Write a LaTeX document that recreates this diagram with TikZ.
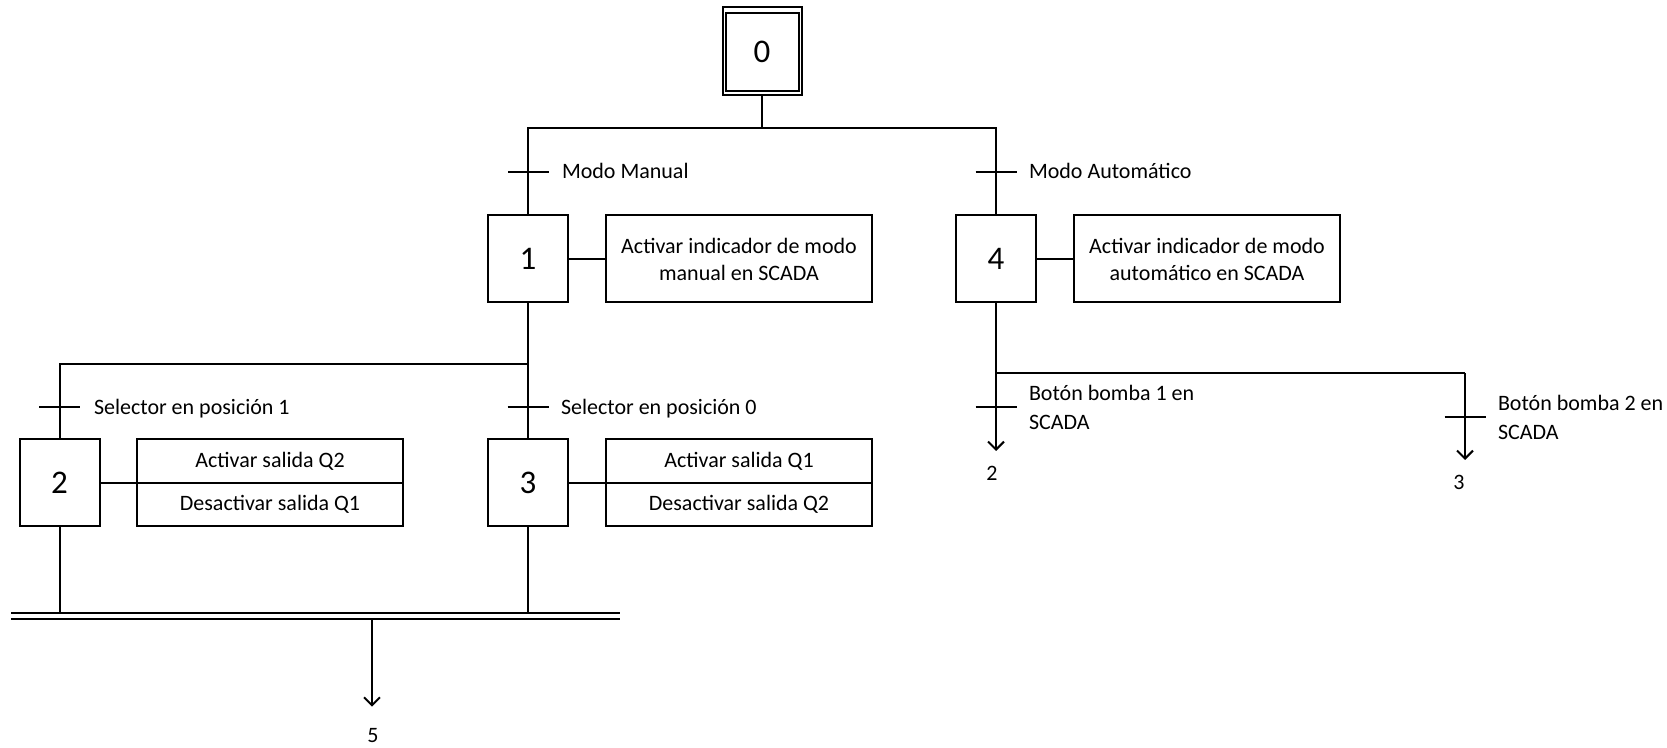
\documentclass[tikz,border=0pt]{standalone}
\usepackage{fontspec}
\setmainfont{Carlito}
\usetikzlibrary{arrows.meta,calc}

\begin{document}
\begin{tikzpicture}[x=0.5pt,y=-0.5pt,
  line width=1pt,
  every node/.style={font=\fontsize{11}{14}\selectfont},
  stepbox/.style={draw, line width=1pt, minimum width=40pt, minimum height=43.5pt,
    inner sep=0pt, font=\fontsize{16.5}{19}\selectfont},
  actbox/.style={draw, line width=1pt, minimum width=133pt, minimum height=43.5pt,
    inner sep=2pt, align=center, font=\fontsize{11}{13.5}\selectfont},
  halfbox/.style={draw, line width=1pt, minimum width=133pt, minimum height=21.75pt,
    inner sep=0pt},
  lbl/.style={anchor=base west, inner sep=0pt},
  cond/.style={anchor=west, inner sep=0pt, align=left, font=\fontsize{11}{14.5}\selectfont},
  trans/.style={line width=1pt},
  flow/.style={-{Straight Barb[length=4pt,width=8pt]}}
]
\useasboundingbox (0,0) rectangle (1667,748);

% initial step
\node[stepbox, minimum width=39.5pt, minimum height=44pt] (s0) at (762,51.5) {0};
\draw ($(s0.north west)+(4,7)$) rectangle ($(s0.south east)+(-4,-5)$);

% steps and actions
\node[stepbox] (s1) at (528,259) {1};
\node[actbox] (a1) at (739,259) {Activar indicador de modo\\manual en SCADA};
\node[stepbox] (s4) at (996,259) {4};
\node[actbox] (a4) at (1207,259) {Activar indicador de modo\\automático en SCADA};
\node[stepbox] (s2) at (59.5,483) {2};
\node[halfbox] (a2a) at (270,461) {Activar salida Q2};
\node[halfbox] (a2b) at (270,504.5) {Desactivar salida Q1};
\node[stepbox] (s3) at (528,483) {3};
\node[halfbox] (a3a) at (739,461) {Activar salida Q1};
\node[halfbox] (a3b) at (739,504.5) {Desactivar salida Q2};

\draw (s1.east) -- (a1.west);
\draw (s4.east) -- (a4.west);
\draw (s2.east) -- (s2.east -| a2a.west);
\draw (s3.east) -- (s3.east -| a3a.west);

% divergence after the initial step
\coordinate (d0) at (762,128.5);
\draw (s0.south) -- (d0);
\draw (s1.north) -- (s1.north |- d0) -- (s4.north |- d0) -- (s4.north);
\draw[trans] (508,172) -- (549,172);
\draw[trans] (975.5,172) -- (1016.5,172);
\node[lbl] (m1) at (561,179) {Modo Manual};
\node[lbl] (m4) at (1028,179) {Modo Automático};

% divergence after step 1
\coordinate (b1) at (528,364);
\draw (s1.south) -- (b1) -- (b1 -| s2.north) -- (s2.north);
\draw (b1) -- (s3.north);
\draw[trans] (39,407.5) -- (80,407.5);
\draw[trans] (507.5,407.5) -- (548.5,407.5);
\node[lbl] (c2) at (93,414.5) {Selector en posición 1};
\node[lbl] (c3) at (560,414.5) {Selector en posición 0};

% convergence of steps 2 and 3
\coordinate (j1) at (11,612.7);
\coordinate (j2) at (620,612.7);
\draw (j1) -- (j2);
\draw ($(j1)+(0,6.6)$) -- ($(j2)+(0,6.6)$);
\draw (s2.south) -- (s2.south |- j1);
\draw (s3.south) -- (s3.south |- j1);
\coordinate (o5) at (372,619.3);
\coordinate (e5) at (372,706.7);
\draw[flow] (o5) -- (e5);
\node (n5) at (373,736) {5};

% divergence after step 4
\coordinate (b4) at (996,373);
\coordinate (b4r) at (1465,373);
\coordinate (e2) at (996,451);
\coordinate (e3) at (1465,460);
\draw (s4.south) -- (b4) -- (b4r);
\draw[flow] (b4) -- (e2);
\draw[flow] (b4r) -- (e3);
\draw[trans] (975.5,407.5) -- (1016.5,407.5);
\draw[trans] (1444.5,416.7) -- (1485.5,416.7);
\node[cond] (c4a) at (1028,407.5) {Botón bomba 1 en\\SCADA};
\node[cond] (c4b) at (1497,417) {Botón bomba 2 en\\SCADA};
\node (n2) at (992,473) {2};
\node (n3) at (1459,482) {3};
\end{tikzpicture}
\end{document}
